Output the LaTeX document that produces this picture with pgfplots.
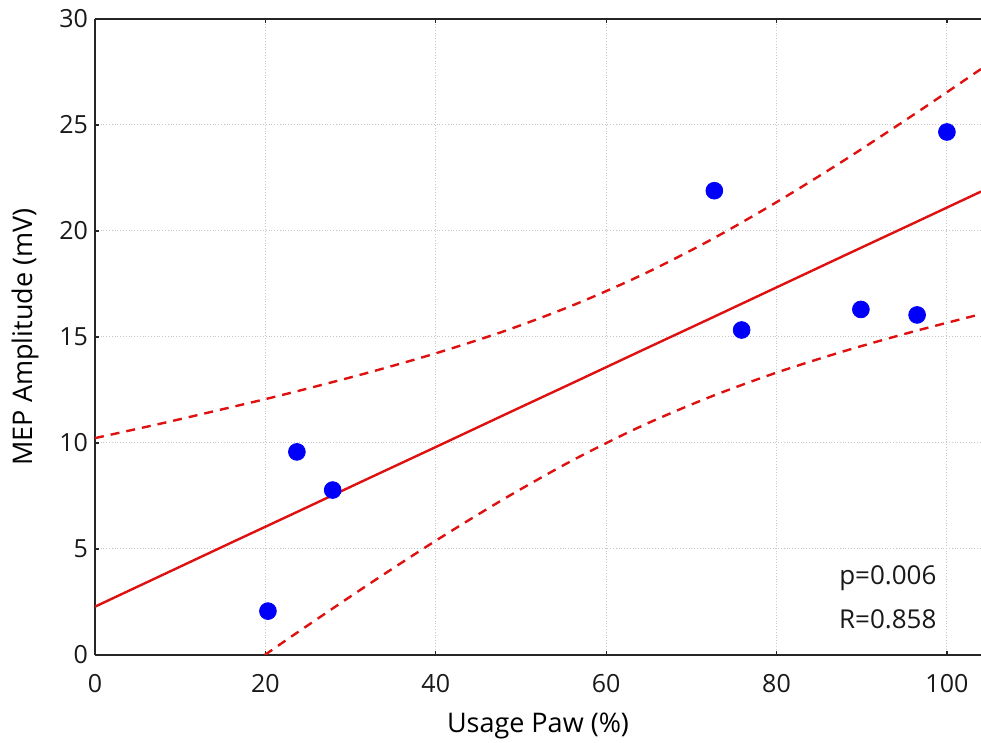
\documentclass[border=0pt]{standalone}
\usepackage{fontspec}
\setmainfont{Open Sans}
\usepackage{pgfplots}
\pgfplotsset{compat=1.18}
\usepackage{pgfplotstable}
\definecolor{fitred}{RGB}{222,16,16}
\definecolor{ptblue}{RGB}{0,0,250}
\pgfplotstableread{
x y
20.3 2.07
23.7 9.58
27.9 7.78
72.7 21.90
75.9 15.33
89.9 16.30
96.5 16.04
100.0 24.67
}\points
\pgfplotstableread{
x fit upper lower
0 2.28 10.23 -5.66
8 3.79 10.94 -3.36
16 5.30 11.69 -1.10
20 6.05 12.07 0.02
24 6.80 12.47 1.13
32 8.31 13.31 3.30
40 9.81 14.23 5.39
48 11.32 15.27 7.36
56 12.82 16.48 9.17
64 14.33 17.89 10.77
72 15.83 19.52 12.14
80 17.34 21.36 13.32
88 18.85 23.35 14.34
96 20.35 25.46 15.25
104 21.86 27.64 16.08
}\band
\begin{document}
\begin{tikzpicture}
\useasboundingbox (0,0) rectangle (490.5pt,371.5pt);
\begin{axis}[
  at={(47.5pt,44pt)}, anchor=south west,
  scale only axis, width=443pt, height=318pt,
  xmin=0, xmax=104, ymin=0, ymax=30,
  axis x line*=box, axis y line*=left,
  axis line style={line width=0.75pt, black!85},
  xtick={0,20,...,100}, ytick={0,5,...,30},
  tick align=inside, major tick length=2pt,
  tick style={black!85, line width=0.6pt},
  grid=major,
  major grid style={densely dotted, gray!45, line width=0.5pt},
  ticklabel style={font=\fontsize{12.5}{14}\selectfont, text=black!90},
  xticklabel style={yshift=-6pt},
  /pgf/number format/assume math mode=true,
  xlabel={Usage Paw (\%)}, ylabel={MEP Amplitude (mV)},
  label style={font=\fontsize{13.5}{15}\selectfont, text=black},
  xlabel style={at={(axis description cs:0.5,-0.111)}, anchor=center},
  ylabel style={at={(axis description cs:-0.079,0.5)}, anchor=center},
  clip=true,
]
\addplot[fitred, line width=1.2pt] table[x=x, y=fit] {\band};
\addplot[fitred, line width=1.2pt, dash pattern=on 4.5pt off 3.5pt, smooth] table[x=x, y=upper] {\band};
\addplot[fitred, line width=1.2pt, dash pattern=on 4.5pt off 3.5pt, smooth] table[x=x, y=lower] {\band};
\addplot[only marks, mark=*, mark size=4.2pt, mark options={fill=ptblue, draw=ptblue}] table[x=x, y=y] {\points};
\node[anchor=east, font=\fontsize{13}{15}\selectfont, text=black!90] at (axis cs:99.6,3.6) {p=0.006};
\node[anchor=east, font=\fontsize{13}{15}\selectfont, text=black!90] at (axis cs:99.6,1.7) {R=0.858};
\end{axis}
\end{tikzpicture}
\end{document}
